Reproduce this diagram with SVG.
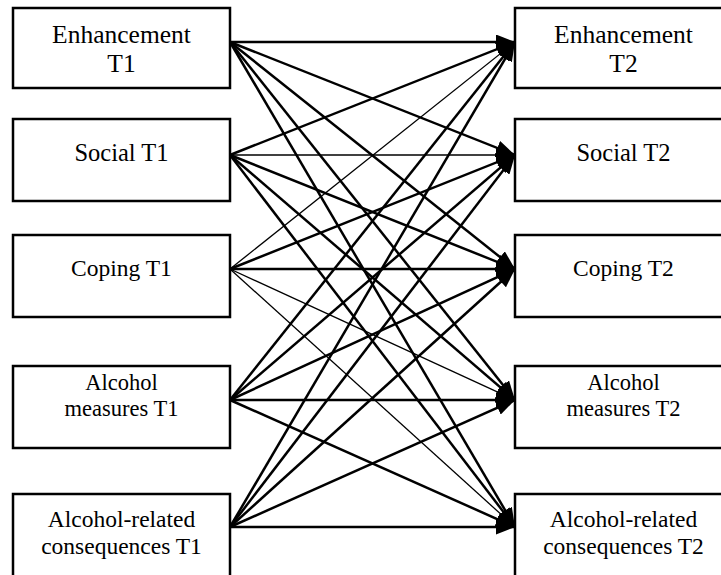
<svg xmlns="http://www.w3.org/2000/svg" width="721" height="575" viewBox="0 0 721 575">
<style>
.box{fill:#fff;stroke:#000;stroke-width:2.5}
.t{fill:#000;text-anchor:middle}
.f26{font-size:25.5px}
.f25{font-size:24.5px}
.f23{font-size:23.5px}
.f22{font-size:22.5px}
.f235{font-size:23.5px}
.c{stroke:#000;stroke-width:2.5;fill:none;marker-end:url(#ah)}
.thin{stroke-width:1.3}
</style>
<defs>
<marker id="ah" markerUnits="userSpaceOnUse" markerWidth="20" markerHeight="15" refX="19" refY="7.5" orient="auto">
<path d="M0,0 L19,7.5 L0,15 Z" fill="#000"/>
</marker>
</defs>
<rect width="721" height="575" fill="#fff"/>
<g id="connectors">
<line class="c" x1="230" y1="42" x2="515" y2="42"/>
<line class="c" x1="230" y1="42" x2="515" y2="155"/>
<line class="c" x1="230" y1="42" x2="515" y2="269"/>
<line class="c" x1="230" y1="42" x2="515" y2="400"/>
<line class="c" x1="230" y1="42" x2="515" y2="527"/>
<line class="c" x1="230" y1="155" x2="515" y2="42"/>
<line class="c thin" x1="230" y1="155" x2="515" y2="155"/>
<line class="c" x1="230" y1="155" x2="515" y2="269"/>
<line class="c" x1="230" y1="155" x2="515" y2="400"/>
<line class="c" x1="230" y1="155" x2="515" y2="527"/>
<line class="c thin" x1="230" y1="269" x2="515" y2="42"/>
<line class="c" x1="230" y1="269" x2="515" y2="155"/>
<line class="c" x1="230" y1="269" x2="515" y2="269"/>
<line class="c thin" x1="230" y1="269" x2="515" y2="400"/>
<line class="c thin" x1="230" y1="269" x2="515" y2="527"/>
<line class="c" x1="230" y1="400" x2="515" y2="42"/>
<line class="c" x1="230" y1="400" x2="515" y2="155"/>
<line class="c" x1="230" y1="400" x2="515" y2="269"/>
<line class="c" x1="230" y1="400" x2="515" y2="400"/>
<line class="c" x1="230" y1="400" x2="515" y2="527"/>
<line class="c" x1="230" y1="527" x2="515" y2="42"/>
<line class="c" x1="230" y1="527" x2="515" y2="155"/>
<line class="c" x1="230" y1="527" x2="515" y2="269"/>
<line class="c" x1="230" y1="527" x2="515" y2="400"/>
<line class="c" x1="230" y1="527" x2="515" y2="527"/>
</g>
<g font-family="Liberation Serif, Times New Roman, DejaVu Serif, serif">
<g id="enh1"><rect class="box" x="13" y="8" width="217" height="80"/><text class="t f26" x="121.5" y="43">Enhancement</text><text class="t f26" x="121.5" y="72">T1</text></g>
<g id="soc1"><rect class="box" x="13" y="119" width="217" height="82"/><text class="t f25" x="121.5" y="161">Social T1</text></g>
<g id="cop1"><rect class="box" x="13" y="235" width="217" height="82"/><text class="t f23" x="121.5" y="276">Coping T1</text></g>
<g id="alc1"><rect class="box" x="13" y="366" width="217" height="82"/><text class="t f22" x="121.5" y="390">Alcohol</text><text class="t f22" x="121.5" y="416">measures T1</text></g>
<g id="con1"><rect class="box" x="13" y="494" width="217" height="84"/><text class="t f235" x="121.5" y="527">Alcohol-related</text><text class="t f235" x="121.5" y="554">consequences T1</text></g>
<g id="enh2"><rect class="box" x="515" y="8" width="217" height="80"/><text class="t f26" x="623.5" y="43">Enhancement</text><text class="t f26" x="623.5" y="72">T2</text></g>
<g id="soc2"><rect class="box" x="515" y="119" width="217" height="82"/><text class="t f25" x="623.5" y="161">Social T2</text></g>
<g id="cop2"><rect class="box" x="515" y="235" width="217" height="82"/><text class="t f23" x="623.5" y="276">Coping T2</text></g>
<g id="alc2"><rect class="box" x="515" y="366" width="217" height="82"/><text class="t f22" x="623.5" y="390">Alcohol</text><text class="t f22" x="623.5" y="416">measures T2</text></g>
<g id="con2"><rect class="box" x="515" y="494" width="217" height="84"/><text class="t f235" x="623.5" y="527">Alcohol-related</text><text class="t f235" x="623.5" y="554">consequences T2</text></g>
</g>
</svg>
